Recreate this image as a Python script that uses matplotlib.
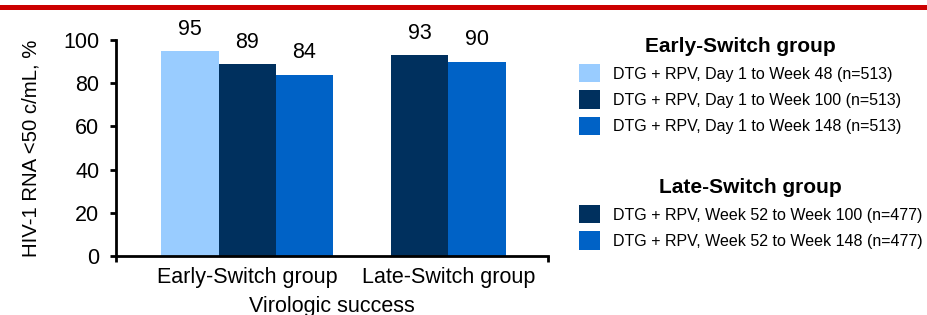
import numpy as np
import matplotlib
matplotlib.use("Agg")
from matplotlib import pyplot as plt
from matplotlib.patches import Rectangle

plt.rcParams['font.family'] = ['Liberation Sans', 'DejaVu Sans']

# data
groups = ["Early-Switch group", "Late-Switch group"]
early_vals = [95, 89, 84]
late_vals = [93, 90]
early_labels = ["DTG + RPV, Day 1 to Week 48 (n=513)",
                "DTG + RPV, Day 1 to Week 100 (n=513)",
                "DTG + RPV, Day 1 to Week 148 (n=513)"]
late_labels = ["DTG + RPV, Week 52 to Week 100 (n=477)",
               "DTG + RPV, Week 52 to Week 148 (n=477)"]
early_colors = ["#99CCFF", "#00305E", "#0062C6"]
late_colors = ["#00305E", "#0062C6"]

width = 0.285
fs = 15.5

fig = plt.figure(figsize=(9.28, 3.15), dpi=100)
ax = fig.add_axes([116/928, 1-256/315, 432/928, 216/315])

centers = np.arange(len(groups))

early_bars = []
for i, (v, c) in enumerate(zip(early_vals, early_colors)):
    b = ax.bar(centers[0] + (i - 1) * width, v, width, color=c)
    ax.bar_label(b, padding=8, fontsize=fs)
    early_bars.append(b)

late_bars = []
for i, (v, c) in enumerate(zip(late_vals, late_colors)):
    b = ax.bar(centers[1] + (i - 0.5) * width, v, width, color=c)
    ax.bar_label(b, padding=8, fontsize=fs)
    late_bars.append(b)

# axes styling
ax.set_ylim(0, 100)
ax.set_xlim(-0.653, 1.496)
ax.set_yticks(np.arange(0, 101, 20))
ax.set_xticks(centers)
ax.set_xticklabels(groups, fontsize=fs)
ax.set_xticks([-0.653, 1.496], minor=True)
ax.tick_params(axis='x', which='major', length=0, pad=8)
ax.tick_params(axis='x', which='minor', length=4.5, width=2, direction='out')
ax.tick_params(axis='y', length=4.5, width=2, labelsize=fs, pad=7.5)
for s in ['top', 'right']:
    ax.spines[s].set_visible(False)
for s in ['left', 'bottom']:
    ax.spines[s].set_linewidth(2)
ax.set_ylabel("HIV-1 RNA <50 c/mL, %", fontsize=14.7, labelpad=16)
ax.set_xlabel("Virologic success", fontsize=fs, labelpad=6)

# legends
leg_kw = dict(frameon=False, fontsize=11.5, handlelength=1.3, handleheight=1.4,
              handletextpad=0.8, labelspacing=0.5, borderpad=0, borderaxespad=0,
              title_fontproperties={'weight': 'bold', 'size': 15})
leg1 = fig.legend([b[0] for b in early_bars], early_labels, title="Early-Switch group",
                  loc='upper left', bbox_to_anchor=(579/928, 1-37/315), **leg_kw)
leg2 = fig.legend([b[0] for b in late_bars], late_labels, title="Late-Switch group",
                  loc='upper left', bbox_to_anchor=(579/928, 1-178/315), **leg_kw)

# red rule on top
fig.add_artist(Rectangle((0, 1-10/315), 1, 5/315, transform=fig.transFigure,
                         color="#CC0000", lw=0))

fig.savefig("out.png", dpi=100)
